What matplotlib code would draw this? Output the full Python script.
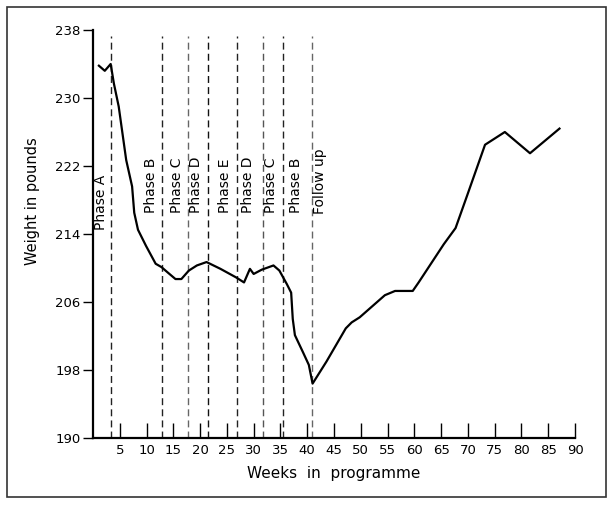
import matplotlib
matplotlib.use('Agg')
import matplotlib.pyplot as plt
from matplotlib.patches import Rectangle

# weight curve
weeks = [1.1, 2.2, 3.3, 3.9, 4.8, 6.2, 7.3, 7.7, 8.4, 9.9, 11.7, 12.8, 13.9, 15.4,
         16.5, 17.9, 19.4, 21.2, 23.8, 26.7, 28.2, 29.3, 30.0, 31.5, 33.7, 34.8,
         36.2, 37.0, 37.3, 37.7, 39.2, 40.3, 41.0, 43.6, 47.2, 48.3, 49.8, 54.5,
         56.4, 59.7, 60.8, 65.5, 67.7, 69.9, 73.2, 76.9, 81.6, 87.1]
weight = [233.8, 233.2, 234.0, 231.7, 229.0, 222.7, 219.6, 216.5, 214.5, 212.6,
          210.5, 210.1, 209.5, 208.7, 208.7, 209.7, 210.3, 210.7, 209.9, 208.9,
          208.3, 209.9, 209.3, 209.8, 210.3, 209.7, 208.1, 207.1, 204.0, 202.1,
          200.1, 198.6, 196.4, 199.0, 202.9, 203.6, 204.2, 206.8, 207.3, 207.3,
          208.3, 212.8, 214.7, 218.6, 224.5, 226.0, 223.5, 226.4]

# phase boundaries and labels
phase_weeks = [3.3, 12.8, 17.8, 21.4, 26.9, 31.7, 35.4, 40.8]
phase_labels = ["Phase A", "Phase B", "Phase C", "Phase D", "Phase E",
                "Phase D", "Phase C", "Phase B", "Follow up"]
label_weeks = [1.5, 10.9, 15.6, 19.3, 24.6, 29.0, 33.3, 37.9, 42.3]
label_bottom = [214.5, 216.5, 216.5, 216.5, 216.5, 216.5, 216.5, 216.5, 216.4]

y_ticks = [190, 198, 206, 214, 222, 230, 238]
x_ticks = list(range(5, 95, 5))

line_colors = ['#222222', '#222222', '#666666', '#111111', '#222222',
               '#555555', '#222222', '#666666']

dpi = 100
fig = plt.figure(figsize=(614 / dpi, 505 / dpi), dpi=dpi)
ax = fig.add_axes([93 / 614, 1 - 438 / 505, (575 - 93) / 614, (438 - 30) / 505])

# outer frame
fig.patches.append(Rectangle((7 / 614, 8 / 505), 599 / 614, 490 / 505,
                             transform=fig.transFigure, fill=False,
                             edgecolor='#333333', lw=1.2))

for xw, c in zip(phase_weeks, line_colors):
  ax.axvline(xw, ymin=0, ymax=0.985, color=c, lw=1.0, linestyle=(0, (5, 3)))

ax.plot(weeks, weight, color='black', lw=1.6, solid_joinstyle='round')

for xw, yb, lab in zip(label_weeks, label_bottom, phase_labels):
  ax.text(xw, yb, lab, rotation=90, ha='center', va='bottom', fontsize=10)

ax.set_xlim(0, 90)
ax.set_ylim(190, 238)
ax.set_xticks(x_ticks)
ax.set_yticks(y_ticks)
ax.tick_params(axis='x', direction='in', length=11, width=1, labelsize=9.5, pad=4)
ax.tick_params(axis='y', direction='out', length=7, width=1, labelsize=9.5, pad=2)

for s in ['top', 'right']:
  ax.spines[s].set_visible(False)
for s in ['left', 'bottom']:
  ax.spines[s].set_linewidth(1.6)

ax.set_xlabel('Weeks  in  programme', fontsize=11, labelpad=7)
ax.set_ylabel('Weight in pounds', fontsize=10.5)
ax.yaxis.set_label_coords(-0.11, 0.58)

fig.savefig('out.png', dpi=dpi)
